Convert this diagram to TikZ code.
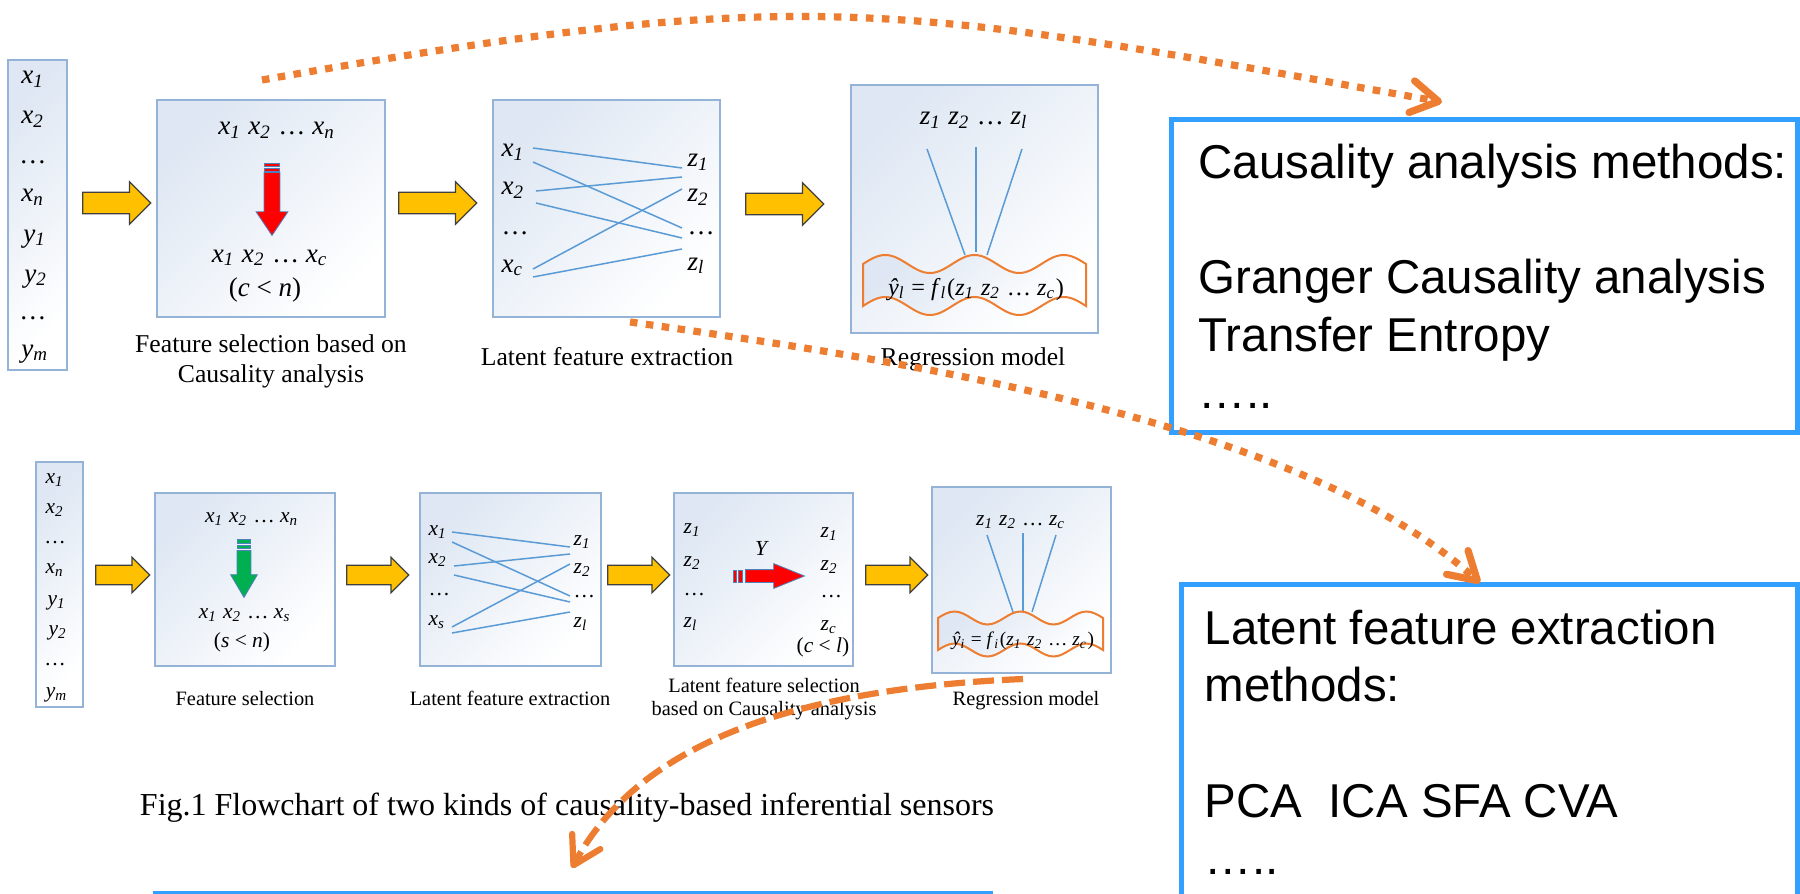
\documentclass[tikz,border=0pt]{standalone}
\usepackage{fontspec}
\setmainfont{Liberation Serif}
\newfontfamily\arialfont{Liberation Sans}
\usetikzlibrary{arrows.meta, shapes.arrows}

\definecolor{stageline}{RGB}{149,179,215}
\definecolor{stagefill}{RGB}{222,231,243}
\definecolor{linkblue}{RGB}{91,155,213}
\definecolor{blockyellow}{RGB}{255,192,0}
\definecolor{hintorange}{RGB}{237,125,49}
\definecolor{methodblue}{RGB}{51,160,255}
\definecolor{stripeblue}{RGB}{79,129,189}
\definecolor{selgreen}{RGB}{0,176,80}

\newcommand{\vs}[2]{\textit{#1}\textsubscript{\textit{#2}}}
% wavy banner: left x, middle y of top edge, quarter wave, amplitude, height
\newcommand{\wavebanner}[5]{%
  \draw[banner] (#1, #2) sin ({#1+#3}, {#2-#4}) cos ({#1+2*#3}, #2) sin ({#1+3*#3}, {#2+#4}) cos ({#1+4*#3}, #2)
    sin ({#1+5*#3}, {#2-#4}) cos ({#1+6*#3}, #2) sin ({#1+7*#3}, {#2+#4}) cos ({#1+8*#3}, #2)
    sin ({#1+9*#3}, {#2-#4}) cos ({#1+10*#3}, #2) -- ({#1+10*#3}, {#2+#5})
    sin ({#1+9*#3}, {#2+#5-#4}) cos ({#1+8*#3}, {#2+#5}) sin ({#1+7*#3}, {#2+#5+#4}) cos ({#1+6*#3}, {#2+#5})
    sin ({#1+5*#3}, {#2+#5-#4}) cos ({#1+4*#3}, {#2+#5}) sin ({#1+3*#3}, {#2+#5+#4}) cos ({#1+2*#3}, {#2+#5})
    sin ({#1+#3}, {#2+#5-#4}) cos (#1, {#2+#5}) -- cycle;}

\begin{document}
\begin{tikzpicture}[x=0.01cm, y=-0.01cm,
    stage/.style={draw=stageline, line width=0.02cm, top color=stagefill, bottom color=white, shading angle=45, inner sep=0pt},
    blockarrow/.style={single arrow, draw=black!75, line width=0.013cm, fill=blockyellow, inner sep=0.1cm, single arrow head extend=0.105cm, anchor=tail},
    smallblock/.style={blockarrow, inner sep=0.09cm, single arrow head extend=0.08cm},
    cutarrow/.style={single arrow, draw=stripeblue, line width=0.008cm, anchor=tail},
    stripe/.style={draw=stripeblue, line width=0.006cm},
    link/.style={draw=linkblue, line width=0.015cm},
    hint/.style={draw=hintorange, line width=0.072cm, dash pattern=on 0.075cm off 0.085cm, -{Straight Barb[length=0.27cm, width=0.32cm, round]}},
    hintdash/.style={hint, line width=0.062cm, dash pattern=on 0.21cm off 0.08cm},
    methods/.style={draw=methodblue, line width=0.05cm, inner sep=0pt},
    methodtext/.style={font=\arialfont\fontsize{13.5}{16.4}\selectfont, align=left, anchor=north west, inner sep=0pt},
    toplabel/.style={font=\fontsize{7.3}{8.5}\selectfont, align=center, inner sep=0pt},
    botlabel/.style={font=\fontsize{5.8}{6.5}\selectfont, align=center, inner sep=0pt},
    topmath/.style={font=\fontsize{7.7}{9}\selectfont, anchor=base, inner sep=0pt},
    botmath/.style={font=\fontsize{6.1}{7}\selectfont, anchor=base, inner sep=0pt},
    banner/.style={draw=hintorange, line width=0.02cm, top color=stagefill, bottom color=white, shading angle=45}]

    \useasboundingbox (0, 0) rectangle (1800, 894);
    \fill[white] (0, 0) rectangle (1800, 894);

    %Nodes: first sensor
    \node[stage, minimum width=0.59cm, minimum height=3.10cm] at (37.5, 215) (colA) {};
    \node[stage, minimum width=2.28cm, minimum height=2.17cm] at (271, 208.5) (selA) {};
    \node[stage, minimum width=2.27cm, minimum height=2.17cm] at (606.5, 208.5) (latA) {};
    \node[stage, minimum width=2.47cm, minimum height=2.48cm] at (974.5, 209) (regA) {};

    \node[topmath] at (33, 84) (ax1) {\vs{x}{1}};
    \node[topmath] at (33, 124) (ax2) {\vs{x}{2}};
    \node[topmath] at (33, 163) (axd) {\dots};
    \node[topmath] at (33, 202) (axn) {\vs{x}{n}};
    \node[topmath] at (35, 242) (ay1) {\vs{y}{1}};
    \node[topmath] at (36, 282) (ay2) {\vs{y}{2}};
    \node[topmath] at (33, 319) (ayd) {\dots};
    \node[topmath] at (35, 357) (aym) {\vs{y}{m}};

    \node[topmath] at (277, 135) (selin) {\vs{x}{1} \vs{x}{2} \dots\ \vs{x}{n}};
    \node[topmath] at (270, 262) (selout) {\vs{x}{1} \vs{x}{2} \dots\ \vs{x}{c}};
    \node[topmath] at (265, 297) (selcond) {(\textit{c} < \textit{n})};
    \fill[red, stripe] (264.5, 163) rectangle (279.5, 166);
    \fill[red, stripe] (264.5, 168) rectangle (279.5, 171);
    \node[cutarrow, fill=red, inner sep=0.075cm, single arrow head extend=0.08cm, single arrow tip angle=68, minimum height=0.63cm, rotate=-90] at (272, 172) (cutA) {};

    \node[topmath, anchor=base west] at (501, 157) (bx1) {\vs{x}{1}};
    \node[topmath, anchor=base west] at (501, 195) (bx2) {\vs{x}{2}};
    \node[topmath, anchor=base west] at (501, 235) (bxd) {\dots};
    \node[topmath, anchor=base west] at (501, 272) (bxc) {\vs{x}{c}};
    \node[topmath, anchor=base west] at (687, 167) (bz1) {\vs{z}{1}};
    \node[topmath, anchor=base west] at (687, 202) (bz2) {\vs{z}{2}};
    \node[topmath, anchor=base west] at (687, 235) (bzd) {\dots};
    \node[topmath, anchor=base west] at (687, 270) (bzl) {\vs{z}{l}};
    \draw[link] (533, 148) -- (682, 168);
    \draw[link] (533, 162) -- (682, 228);
    \draw[link] (536, 191) -- (682, 177);
    \draw[link] (536, 203) -- (682, 238);
    \draw[link] (533, 269) -- (682, 189);
    \draw[link] (533, 277) -- (682, 249);

    \node[topmath] at (974, 125) (regin) {\vs{z}{1} \vs{z}{2} \dots\ \vs{z}{l}};
    \draw[link] (927, 149) -- (965, 255);
    \draw[link] (976, 147) -- (976, 252);
    \draw[link] (1022, 149) -- (987, 255);
    \wavebanner{863}{264}{22.3}{9}{42}
    \node[font=\fontsize{6.9}{8}\selectfont, anchor=base, inner sep=0pt] at (976, 295) (regfun) {\textit{ŷ}\textsubscript{\textit{l}} = \vs{f}{l}(\vs{z}{1} \vs{z}{2} \dots\ \vs{z}{c})};

    \node[toplabel] at (271, 361) (selAlab) {Feature selection based on\\Causality analysis};
    \node[toplabel, anchor=base] at (607, 365) (latAlab) {Latent feature extraction};
    \node[toplabel, anchor=base] at (973, 365) (regAlab) {Regression model};

    \node[blockarrow, minimum height=0.68cm] at (82, 203) (ya1) {};
    \node[blockarrow, minimum height=0.78cm] at (398, 203) (ya2) {};
    \node[blockarrow, minimum height=0.78cm] at (745, 204) (ya3) {};

    %Nodes: second sensor
    \node[stage, minimum width=0.47cm, minimum height=2.45cm] at (59.5, 584.5) (colB) {};
    \node[stage, minimum width=1.80cm, minimum height=1.73cm] at (245, 579.5) (selB) {};
    \node[stage, minimum width=1.81cm, minimum height=1.73cm] at (510.5, 579.5) (latB) {};
    \node[stage, minimum width=1.79cm, minimum height=1.73cm] at (763.5, 579.5) (csB) {};
    \node[stage, minimum width=1.79cm, minimum height=1.86cm] at (1021.5, 580) (regB) {};

    \node[botmath] at (55, 483) (cx1) {\vs{x}{1}};
    \node[botmath] at (55, 513) (cx2) {\vs{x}{2}};
    \node[botmath] at (55, 543) (cxd) {\dots};
    \node[botmath] at (55, 573) (cxn) {\vs{x}{n}};
    \node[botmath] at (57, 605) (cy1) {\vs{y}{1}};
    \node[botmath] at (58, 635) (cy2) {\vs{y}{2}};
    \node[botmath] at (55, 665) (cyd) {\dots};
    \node[botmath] at (57, 697) (cym) {\vs{y}{m}};

    \node[botmath] at (252, 522) (selBin) {\vs{x}{1} \vs{x}{2} \dots\ \vs{x}{n}};
    \node[botmath] at (245, 618) (selBout) {\vs{x}{1} \vs{x}{2} \dots\ \vs{x}{s}};
    \node[botmath] at (242, 647) (selBcond) {(\textit{s} < \textit{n})};
    \fill[selgreen, stripe] (237.5, 539) rectangle (250.5, 543);
    \fill[selgreen, stripe] (237.5, 545) rectangle (250.5, 548);
    \node[cutarrow, fill=selgreen, inner sep=0.065cm, single arrow head extend=0.065cm, single arrow tip angle=61, minimum height=0.47cm, rotate=-90] at (244, 550) (cutB) {};

    \node[botmath, anchor=base west] at (428, 535) (dx1) {\vs{x}{1}};
    \node[botmath, anchor=base west] at (428, 563) (dx2) {\vs{x}{2}};
    \node[botmath, anchor=base west] at (428, 595) (dxd) {\dots};
    \node[botmath, anchor=base west] at (428, 625) (dxs) {\vs{x}{s}};
    \node[botmath, anchor=base west] at (573, 545) (dz1) {\vs{z}{1}};
    \node[botmath, anchor=base west] at (573, 573) (dz2) {\vs{z}{2}};
    \node[botmath, anchor=base west] at (573, 597) (dzd) {\dots};
    \node[botmath, anchor=base west] at (573, 627) (dzl) {\vs{z}{l}};
    \draw[link] (452, 532) -- (570, 547);
    \draw[link] (452, 542) -- (570, 596);
    \draw[link] (454, 566) -- (570, 554);
    \draw[link] (454, 575) -- (570, 602);
    \draw[link] (452, 627) -- (570, 564);
    \draw[link] (452, 633) -- (570, 612);

    \node[botmath, anchor=base west] at (683, 533) (ez1) {\vs{z}{1}};
    \node[botmath, anchor=base west] at (683, 566) (ez2) {\vs{z}{2}};
    \node[botmath, anchor=base west] at (683, 595) (ezd) {\dots};
    \node[botmath, anchor=base west] at (683, 627) (ezl) {\vs{z}{l}};
    \node[botmath, anchor=base west] at (820, 537) (fz1) {\vs{z}{1}};
    \node[botmath, anchor=base west] at (820, 570) (fz2) {\vs{z}{2}};
    \node[botmath, anchor=base west] at (820, 597) (fzd) {\dots};
    \node[botmath, anchor=base west] at (820, 630) (fzc) {\vs{z}{c}};
    \node[botmath] at (823, 652) (csBcond) {(\textit{c} < \textit{l})};
    \node[botmath] at (762, 555) (csBy) {\textit{Y}};
    \fill[red, stripe] (733, 570) rectangle (736.5, 582);
    \fill[red, stripe] (738.5, 570) rectangle (742, 582);
    \node[cutarrow, fill=red, inner sep=0.06cm, single arrow head extend=0.06cm, single arrow tip angle=44, minimum height=0.59cm] at (745, 576) (cutC) {};

    \node[botmath] at (1021, 525) (regBin) {\vs{z}{1} \vs{z}{2} \dots\ \vs{z}{c}};
    \draw[link] (987, 535) -- (1014, 615);
    \draw[link] (1023, 533) -- (1023, 613);
    \draw[link] (1056, 535) -- (1032, 612);
    \wavebanner{938}{618}{16.5}{6.5}{32}
    \node[font=\fontsize{5.5}{6.5}\selectfont, anchor=base, inner sep=0pt] at (1023, 645) (regBfun) {\textit{ŷ}\textsubscript{\textit{i}} = \vs{f}{i}(\vs{z}{1} \vs{z}{2} \dots\ \vs{z}{c})};

    \node[botlabel, anchor=base] at (245, 705) (selBlab) {Feature selection};
    \node[botlabel, anchor=base] at (510, 705) (latBlab) {Latent feature extraction};
    \node[botlabel] at (764, 699) (csBlab) {Latent feature selection\\based on Causality analysis};
    \node[botlabel, anchor=base] at (1026, 705) (regBlab) {Regression model};

    \node[smallblock, minimum height=0.54cm] at (95, 575) (yb1) {};
    \node[smallblock, minimum height=0.62cm] at (346, 575) (yb2) {};
    \node[smallblock, minimum height=0.62cm] at (607, 575) (yb3) {};
    \node[smallblock, minimum height=0.62cm] at (865, 575) (yb4) {};

    \node[font=\fontsize{9.1}{11}\selectfont, anchor=base, inner sep=0pt] at (567, 815) (caption) {Fig.1 Flowchart of two kinds of causality-based inferential sensors};

    %Method boxes
    \node[methods, minimum width=6.25cm, minimum height=3.12cm] at (1484.5, 276) (causD) {};
    \node[methodtext] at (1198, 143) (causT) {Causality analysis methods:\\[16.4pt]Granger Causality analysis\\Transfer Entropy\\…..};
    \node[methods, minimum width=6.15cm, minimum height=3.40cm] at (1489.5, 755) (latE) {};
    \node[methodtext] at (1204, 609) (latT) {Latent feature extraction\\methods:\\[16.4pt]PCA\ \ ICA SFA CVA\\…..};
    \node[methods, minimum width=8.34cm, minimum height=1cm, anchor=north west] at (153, 891) (nextF) {};

    %Lines
    \coordinate (hintAs) at (262, 80);
    \coordinate (hintAe) at (1442, 102);
    \coordinate (hintBs) at (630, 322);
    \coordinate (hintBe) at (1480, 583);
    \coordinate (hintCs) at (1023, 679);
    \coordinate (hintCe) at (572, 868);
    \draw[hint] (hintAs) .. controls (816, -18) and (888, 4) .. (hintAe);
    \draw[hint] (hintBs) .. controls (900, 360) and (1300, 420) .. (hintBe);
    \draw[hintdash] (hintCs) .. controls (760, 690) and (630, 760) .. (hintCe);

\end{tikzpicture}
\end{document}
